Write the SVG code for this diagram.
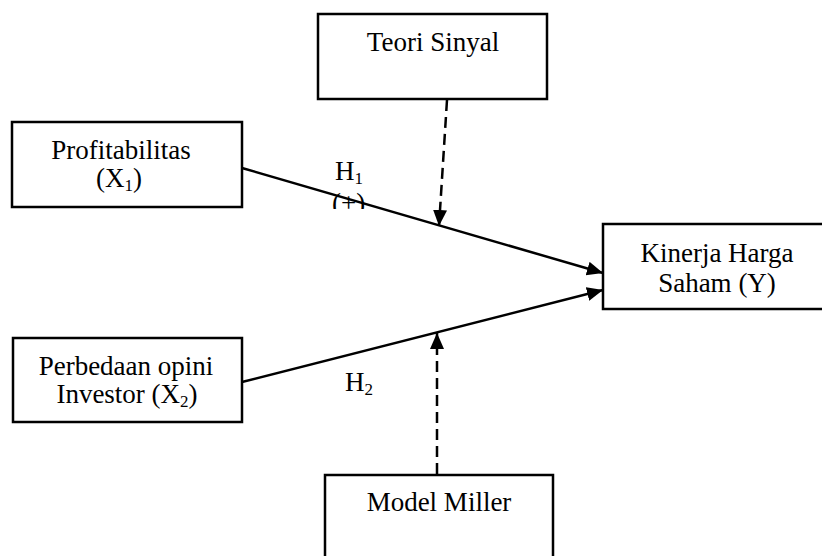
<svg xmlns="http://www.w3.org/2000/svg" width="822" height="556" viewBox="0 0 822 556">
<style>
.box{fill:#fff;stroke:#000;stroke-width:2.5}
.t{font-family:"Liberation Serif","Times New Roman",serif;font-size:27px;fill:#000;text-anchor:middle}
.tl{font-family:"Liberation Serif","Times New Roman",serif;font-size:27px;fill:#000}
.sub{font-size:17px}
.ln{stroke:#000;stroke-width:2.5;fill:none}
.dash{stroke:#000;stroke-width:2.5;fill:none;stroke-dasharray:11 6}
</style>
<defs>
<marker id="ah" markerUnits="userSpaceOnUse" markerWidth="18" markerHeight="16" refX="16" refY="7" orient="auto">
<path d="M0,0 L16,7 L0,14 Z" fill="#000"/>
</marker>
<clipPath id="plusclip"><rect x="300" y="185" width="100" height="24"/></clipPath>
</defs>
<rect width="822" height="556" fill="#fff"/>
<g id="teori-sinyal">
<rect class="box" x="318" y="14" width="229" height="85"/>
<text class="t" x="433" y="51">Teori Sinyal</text>
</g>
<g id="profitabilitas">
<rect class="box" x="12" y="122" width="230" height="85"/>
<text class="t" x="121" y="159">Profitabilitas</text>
<text class="t" x="119" y="187">(X<tspan class="sub" dy="4">1</tspan><tspan dy="-4">)</tspan></text>
</g>
<g id="perbedaan">
<rect class="box" x="13" y="338" width="229" height="84"/>
<text class="t" x="126" y="375">Perbedaan opini</text>
<text class="t" x="127" y="403">Investor (X<tspan class="sub" dy="4">2</tspan><tspan dy="-4">)</tspan></text>
</g>
<g id="kinerja">
<rect class="box" x="603" y="224" width="230" height="85"/>
<text class="t" x="717" y="262">Kinerja Harga</text>
<text class="t" x="717" y="292">Saham (Y)</text>
</g>
<g id="model-miller">
<rect class="box" x="325" y="475" width="228" height="100"/>
<text class="t" x="439" y="511">Model Miller</text>
</g>
<g id="connectors">
<line class="ln" x1="242" y1="168" x2="603" y2="273" marker-end="url(#ah)"/>
<line class="ln" x1="242" y1="382" x2="603" y2="290" marker-end="url(#ah)"/>
<line class="dash" x1="447" y1="100" x2="439" y2="226" marker-end="url(#ah)"/>
<line class="dash" x1="437" y1="474" x2="437" y2="333" marker-end="url(#ah)"/>
</g>
<g id="labels">
<text class="tl" x="335" y="180">H<tspan class="sub" dy="4">1</tspan></text>
<text class="tl" x="332" y="212" clip-path="url(#plusclip)">(+)</text>
<text class="tl" x="345" y="391">H<tspan class="sub" dy="4">2</tspan></text>
</g>
</svg>
